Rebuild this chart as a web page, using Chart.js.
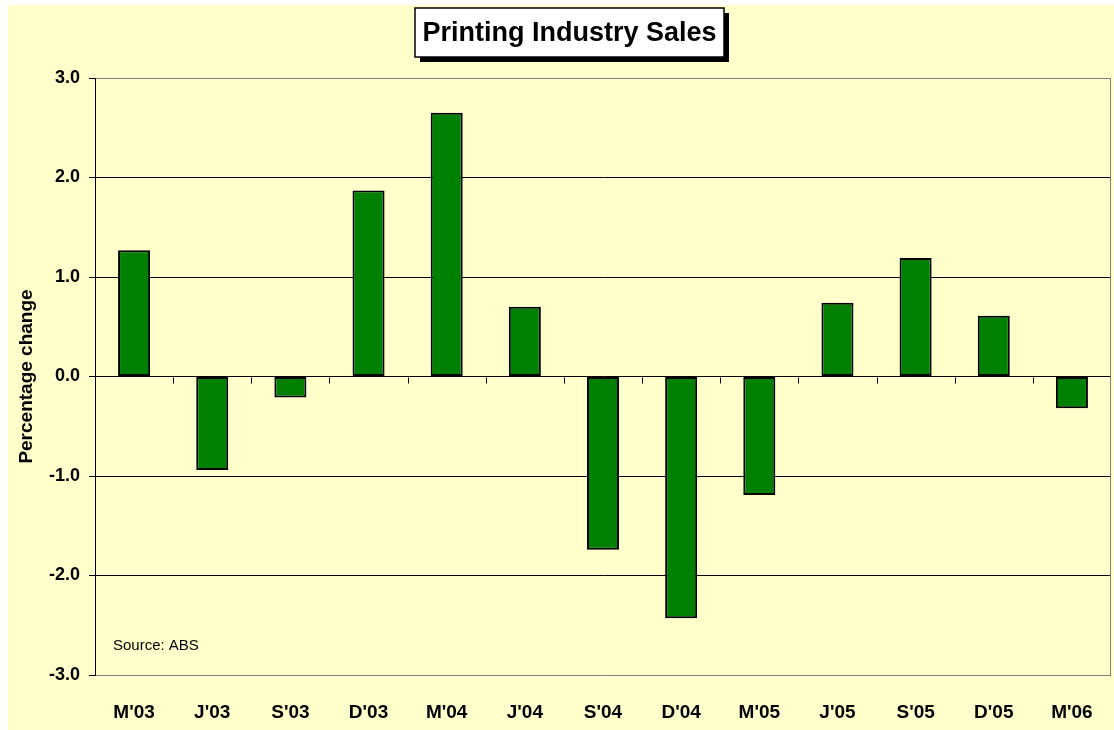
<!DOCTYPE html>
<html>
<head>
<meta charset="utf-8">
<title>Printing Industry Sales</title>
<script src="https://cdn.jsdelivr.net/npm/chart.js@4.4.1/dist/chart.umd.min.js"></script>
<style>
  html, body { margin: 0; padding: 0; background: #ffffff; }
  #wrap { width: 1114px; height: 730px; position: relative; }
</style>
</head>
<body>
<div id="wrap"><canvas id="salesChart"></canvas></div>
<script>
// Chart data (percentage change, quarterly)
const quarters = ["M'03", "J'03", "S'03", "D'03", "M'04", "J'04", "S'04", "D'04", "M'05", "J'05", "S'05", "D'05", "M'06"];
const salesChange = [1.27, -0.94, -0.21, 1.87, 2.65, 0.70, -1.74, -2.43, -1.19, 0.74, 1.19, 0.61, -0.32];
const yTicks = [-3, -2, -1, 0, 1, 2, 3];

const chartTitle = 'Printing Industry Sales';
const sourceNote = 'Source: ABS';
const FONT = '"Liberation Sans", Arial, sans-serif';

// Pale yellow backdrop, like the old Excel chart area
const backdrop = {
  id: 'backdrop',
  beforeDraw(chart) {
    const ctx = chart.ctx;
    ctx.save();
    ctx.fillStyle = '#ffffcc';
    ctx.fillRect(8, 5, chart.width - 8, chart.height - 5);
    ctx.restore();
  }
};

// Category tick marks on the zero line + grey right border of the plot
const zeroAxis = {
  id: 'zeroAxis',
  beforeDatasetsDraw(chart) {
    const { ctx, chartArea, scales } = chart;
    const x = scales.x, y = scales.y;
    const y0 = Math.round(y.getPixelForValue(0)) + 0.5;
    ctx.save();
    ctx.strokeStyle = '#000';
    ctx.lineWidth = 1;
    ctx.beginPath();
    for (let i = 1; i < quarters.length; i++) {
      const px = Math.round((x.getPixelForValue(i - 1) + x.getPixelForValue(i)) / 2) + 0.5;
      ctx.moveTo(px, y0);
      ctx.lineTo(px, y0 + 6);
    }
    ctx.stroke();
    ctx.strokeStyle = '#808080';
    ctx.beginPath();
    ctx.moveTo(Math.round(chartArea.right) - 0.5, chartArea.top);
    ctx.lineTo(Math.round(chartArea.right) - 0.5, chartArea.bottom);
    ctx.stroke();
    ctx.restore();
  }
};

// Boxed title with drop shadow, and the source note
const decorations = {
  id: 'decorations',
  afterDraw(chart) {
    const ctx = chart.ctx;
    const box = { x: 415, y: 8, w: 309, h: 49 };
    ctx.save();
    ctx.fillStyle = '#000';
    ctx.fillRect(box.x + 5, box.y + 5, box.w, box.h);
    ctx.fillStyle = '#fff';
    ctx.fillRect(box.x, box.y, box.w, box.h);
    ctx.strokeStyle = '#000';
    ctx.lineWidth = 1.5;
    ctx.strokeRect(box.x, box.y, box.w, box.h);

    ctx.font = 'bold 27px ' + FONT;
    ctx.textAlign = 'center';
    ctx.textBaseline = 'middle';
    ctx.fillStyle = '#000';
    ctx.fillText(chartTitle, box.x + box.w / 2, box.y + box.h / 2 + 1);
    ctx.restore();

    const area = chart.chartArea;
    ctx.save();
    ctx.font = '15px ' + FONT;
    ctx.fillStyle = '#000';
    ctx.textAlign = 'left';
    ctx.textBaseline = 'middle';
    ctx.fillText(sourceNote, area.left + 18, area.bottom - 29);
    ctx.restore();
  }
};

new Chart(document.getElementById('salesChart'), {
  type: 'bar',
  data: {
    labels: quarters,
    datasets: [{
      label: 'Percentage change',
      data: salesChange,
      backgroundColor: '#008000',
      borderColor: '#000000',
      borderWidth: 2,
      borderSkipped: false,
      categoryPercentage: 1.0,
      barPercentage: 0.41
    }]
  },
  options: {
    responsive: true,
    maintainAspectRatio: false,
    animation: false,
    layout: { padding: { top: 78, right: 3, left: 0, bottom: 0 } },
    plugins: {
      legend: { display: false },
      title: { display: false },
      tooltip: { enabled: false }
    },
    scales: {
      x: {
        grid: { display: false },
        border: { display: false },
        ticks: {
          color: '#000',
          padding: 18,
          maxRotation: 0,
          autoSkip: false,
          font: { family: FONT, size: 19, weight: 'bold' }
        },
        afterFit(scale) { scale.height = 55; }
      },
      y: {
        min: -3,
        max: 3,
        afterBuildTicks(scale) { scale.ticks = yTicks.map(v => ({ value: v })); },
        grid: {
          color: ctx => (ctx.tick && Math.abs(ctx.tick.value) === 3) ? '#808080' : '#000000',
          tickColor: '#000000',
          tickLength: 6,
          lineWidth: 1
        },
        border: { display: true, color: '#000000', width: 1 },
        ticks: {
          color: '#000',
          padding: 9,
          font: { family: FONT, size: 18, weight: 'bold' },
          callback: v => Number(v).toFixed(1)
        },
        title: {
          display: true,
          text: 'Percentage change',
          color: '#000',
          padding: { top: 15, bottom: 0 },
          font: { family: FONT, size: 19, weight: 'bold' }
        },
        afterFit(scale) { scale.width = 95; }
      }
    }
  },
  plugins: [backdrop, zeroAxis, decorations]
});
</script>
</body>
</html>
